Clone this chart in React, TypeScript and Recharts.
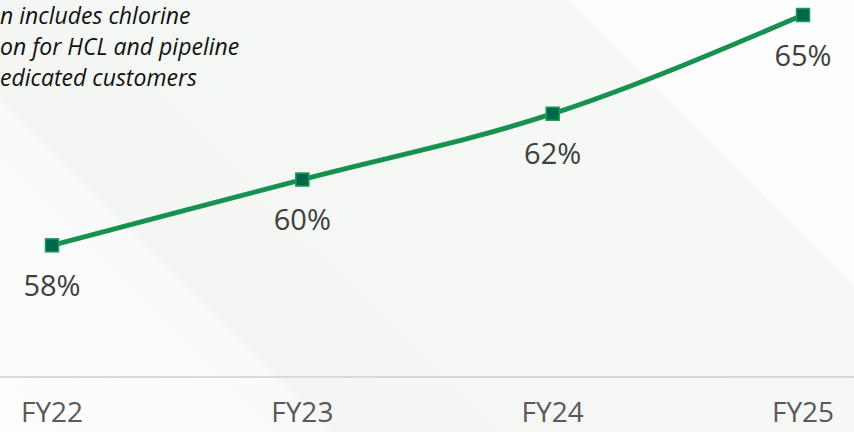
import { LineChart, Line, XAxis, YAxis, LabelList } from 'recharts';

const years = ['FY22', 'FY23', 'FY24', 'FY25'];
const shares = [58, 60, 62, 65];
const noteLines = ['n includes chlorine', 'on for HCL and pipeline', 'edicated customers'];

const data = years.map((year, i) => ({ year, share: shares[i] }));

const LINE_GREEN = '#17914f';
const MARKER_GREEN = '#00674a';

function SquareDot(props: any) {
  const { cx, cy } = props;
  if (cx == null || cy == null) return null;
  const s = 13;
  return (
    <rect
      x={cx - s / 2}
      y={cy - s / 2}
      width={s}
      height={s}
      fill={MARKER_GREEN}
      stroke="#1e9a58"
      strokeWidth={1.5}
    />
  );
}

export default function App() {
  return (
    <div
      style={{
        position: 'fixed',
        left: 0,
        top: 0,
        width: 854,
        height: 432,
        overflow: 'hidden',
        background:
          'linear-gradient(45deg, #fdfdfd 0%, #f9faf9 25.5%, #f3f6f3 26%, #f5f8f5 77.5%, #fcfdfc 78%, #fefefe 100%)',
      }}
    >
      <svg width={854} height={100} style={{ position: 'absolute', left: 0, top: 0 }}>
        {noteLines.map((t, i) => (
          <text
            key={t}
            x={0}
            y={24 + i * 31}
            fontFamily="'Open Sans', sans-serif"
            fontStyle="italic"
            fontSize={23}
            fill="#111"
          >
            {t}
          </text>
        ))}
      </svg>
      <LineChart
        width={854}
        height={432}
        data={data}
        margin={{ top: 15, right: 0, bottom: 0, left: 0 }}
        style={{ position: 'absolute', left: 0, top: 0 }}
      >
        <XAxis
          dataKey="year"
          padding={{ left: 52, right: 51 }}
          height={55}
          tickLine={false}
          tickMargin={19}
          axisLine={{ stroke: '#d9d9d9', strokeWidth: 2 }}
          tick={{ fill: '#595959', fontSize: 28, fontFamily: "'Open Sans', sans-serif" }}
        />
        <YAxis hide domain={[54, 65]} />
        <Line
          type="monotone"
          dataKey="share"
          stroke={LINE_GREEN}
          strokeWidth={5}
          dot={<SquareDot />}
          activeDot={false}
          isAnimationActive={false}
        >
          <LabelList
            dataKey="share"
            position="bottom"
            offset={30}
            formatter={(v: any) => `${v}%`}
            style={{ fill: '#404040', fontSize: 29, fontFamily: "'Open Sans', sans-serif" }}
          />
        </Line>
      </LineChart>
    </div>
  );
}
